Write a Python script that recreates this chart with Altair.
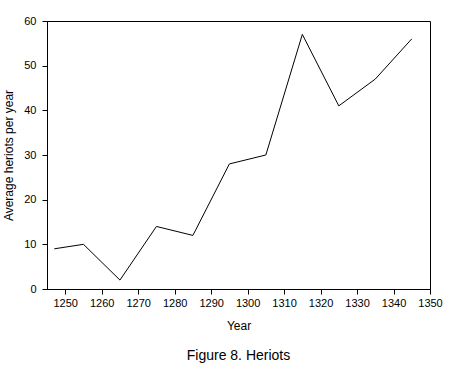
import altair as alt
import pandas as pd

years = [1247, 1255, 1265, 1275, 1285, 1295, 1305, 1315, 1325, 1335, 1345]
heriots = [9, 10, 2, 14, 12, 28, 30, 57, 41, 47, 56]
x_ticks = [1250, 1260, 1270, 1280, 1290, 1300, 1310, 1320, 1330, 1340, 1350]
y_ticks = [0, 10, 20, 30, 40, 50, 60]

df = pd.DataFrame({"Year": years, "Heriots": heriots})

FONT = "Liberation Sans"

chart = alt.Chart(df).mark_line(color="black", strokeWidth=1).encode(
    x=alt.X("Year:Q",
            scale=alt.Scale(domain=[1245, 1350], nice=False, zero=False),
            axis=alt.Axis(values=x_ticks, title="Year", grid=False, format="d",
                          tickSize=5, labelPadding=3, titlePadding=12,
                          labelOverlap=False, labelFlush=False)),
    y=alt.Y("Heriots:Q",
            scale=alt.Scale(domain=[0, 60], nice=False),
            axis=alt.Axis(values=y_ticks, title="Average heriots per year", grid=False,
                          tickSize=5, labelPadding=6, titlePadding=8,
                          labelOverlap=False, labelFlush=False)),
).properties(
    width=383,
    height=268,
    background="white",
    autosize=alt.AutoSizeParams(type="none"),
    padding={"left": 47, "top": 21, "right": 21, "bottom": 79},
    title=alt.TitleParams("Figure 8. Heriots", orient="bottom", anchor="middle",
                          fontSize=14, fontWeight="normal", font=FONT, color="black",
                          offset=18),
).configure_view(
    stroke="black", strokeWidth=1
).configure_axis(
    domainColor="black", tickColor="black", labelColor="black", titleColor="black",
    labelFont=FONT, titleFont=FONT, labelFontSize=11, titleFontSize=12,
    titleFontWeight="normal", domainWidth=1, tickWidth=1
)

chart.save("out.html", embed_options={"renderer": "svg", "actions": False})
